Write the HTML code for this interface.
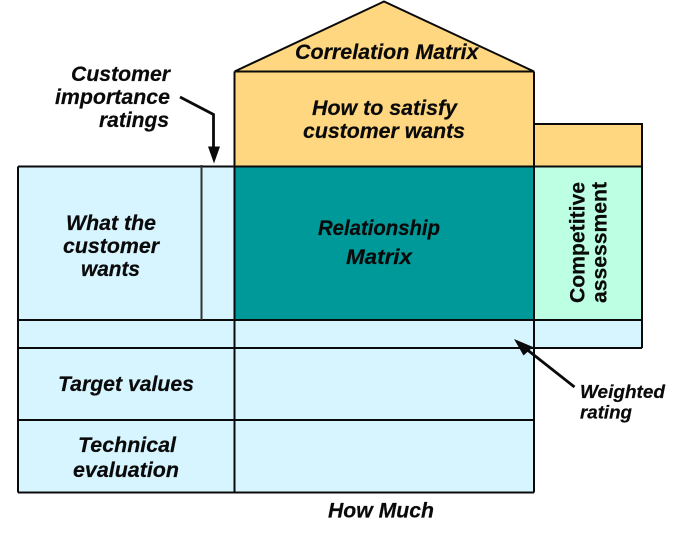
<!DOCTYPE html>
<html>
<head>
<meta charset="utf-8">
<style>
html,body{margin:0;padding:0;background:#fff;width:684px;height:539px;overflow:hidden}
svg{display:block}
text{font-family:"Liberation Sans",sans-serif;font-weight:bold;font-style:italic;fill:#0a0a0a;font-size:21.3px;stroke:#0a0a0a;stroke-width:.2px}
</style>
</head>
<body>
<svg width="684" height="539" viewBox="0 0 684 539" xmlns="http://www.w3.org/2000/svg">
<rect x="18" y="166.5" width="216.5" height="326" fill="#d7f5ff"/>
<rect x="234.5" y="320" width="299.5" height="172.5" fill="#d7f5ff"/>
<rect x="534" y="320" width="108" height="28" fill="#d7f5ff"/>
<polygon points="384,1 534,71.5 534,166.5 234.5,166.5 234.5,71.5" fill="#ffd780"/>
<rect x="534" y="124" width="108" height="42.5" fill="#ffd780"/>
<rect x="234.5" y="166.5" width="299.5" height="153.5" fill="#009999"/>
<rect x="534" y="166.5" width="108" height="153.5" fill="#bdffe3"/>
<g fill="none" stroke="#0a0a0a" stroke-width="2">
<polyline points="234.5,71.5 384,1.5 534,71.5"/>
<line x1="234.5" y1="71.5" x2="534" y2="71.5"/>
<line x1="234.5" y1="71.5" x2="234.5" y2="492.5"/>
<line x1="534" y1="71.5" x2="534" y2="492.5"/>
<polyline points="534,124 642,124 642,348"/>
<line x1="18" y1="166.5" x2="642" y2="166.5"/>
<line x1="18" y1="320" x2="642" y2="320"/>
<line x1="18" y1="348" x2="642" y2="348"/>
<line x1="18" y1="420" x2="534" y2="420"/>
<line x1="18" y1="492.5" x2="534" y2="492.5"/>
<line x1="18" y1="166.5" x2="18" y2="492.5"/>
<line x1="201.5" y1="165" x2="201.5" y2="320" stroke="#333"/>
</g>
<polyline points="180,97 213.500,114.500 213.500,150" fill="none" stroke="#0a0a0a" stroke-width="2.800"/>
<polygon points="208,146.500 220,146.500 214,163.500" fill="#0a0a0a"/>
<line x1="574.500" y1="387" x2="525" y2="348" stroke="#0a0a0a" stroke-width="2.800"/>
<polygon points="514,339 533,347 523.500,355.500" fill="#0a0a0a"/>

<text x="295" y="59" textLength="183.500" lengthAdjust="spacingAndGlyphs">Correlation Matrix</text>
<text x="312" y="115" textLength="145" lengthAdjust="spacingAndGlyphs">How to satisfy</text>
<text x="303" y="138" textLength="162" lengthAdjust="spacingAndGlyphs">customer wants</text>
<text x="71" y="81" textLength="99" lengthAdjust="spacingAndGlyphs">Customer</text>
<text x="55" y="104" textLength="115" lengthAdjust="spacingAndGlyphs">importance</text>
<text x="99" y="127" textLength="70" lengthAdjust="spacingAndGlyphs">ratings</text>
<text x="66" y="230" textLength="90" lengthAdjust="spacingAndGlyphs">What the</text>
<text x="63" y="253" textLength="96" lengthAdjust="spacingAndGlyphs">customer</text>
<text x="81" y="276" textLength="59" lengthAdjust="spacingAndGlyphs">wants</text>
<text x="318" y="235" textLength="122" lengthAdjust="spacingAndGlyphs">Relationship</text>
<text x="346" y="264" textLength="66" lengthAdjust="spacingAndGlyphs">Matrix</text>
<text transform="translate(584.500,303) rotate(-90)" style="font-style:normal" textLength="121" lengthAdjust="spacingAndGlyphs">Competitive</text>
<text transform="translate(606.700,303) rotate(-90)" style="font-style:normal" textLength="121" lengthAdjust="spacingAndGlyphs">assessment</text>
<text x="58" y="391" textLength="136" lengthAdjust="spacingAndGlyphs">Target values</text>
<text x="78" y="452" textLength="98" lengthAdjust="spacingAndGlyphs">Technical</text>
<text x="73" y="477" textLength="106" lengthAdjust="spacingAndGlyphs">evaluation</text>
<text x="580" y="398" style="font-size:18.700px" textLength="85" lengthAdjust="spacingAndGlyphs">Weighted</text>
<text x="580" y="418.500" style="font-size:18.700px" textLength="52" lengthAdjust="spacingAndGlyphs">rating</text>
<text x="328" y="517.500" textLength="106" lengthAdjust="spacingAndGlyphs">How Much</text>
</svg>
</body>
</html>
